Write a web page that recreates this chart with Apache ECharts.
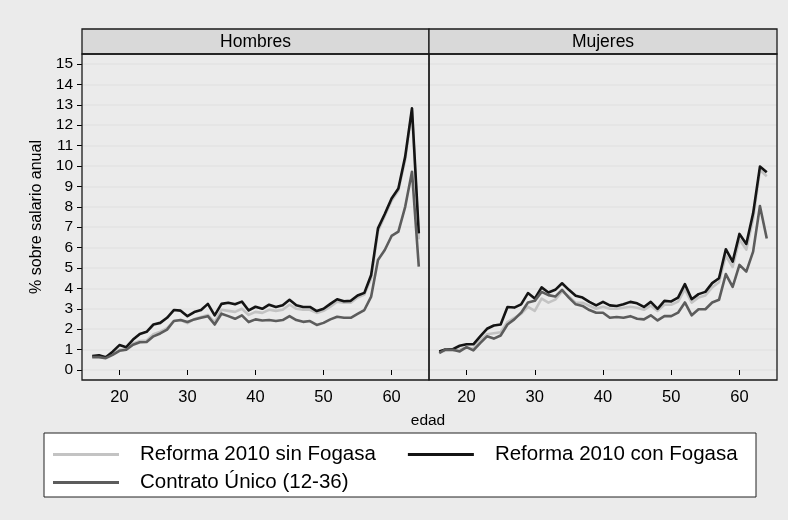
<!DOCTYPE html>
<html>
<head>
<meta charset="utf-8">
<script src="https://cdn.jsdelivr.net/npm/echarts@6/dist/echarts.min.js"></script>
<style>html,body{margin:0;padding:0;background:#ebebeb;}#c{width:788px;height:520px;}</style>
</head>
<body>
<div id="c"></div>
<script>
const ages = [16,17,18,19,20,21,22,23,24,25,26,27,28,29,30,31,32,33,34,35,36,37,38,39,40,41,42,43,44,45,46,47,48,49,50,51,52,53,54,55,56,57,58,59,60,61,62,63,64];

const hombresSin = [0.65,0.68,0.6,0.8,1.0,1.02,1.3,1.42,1.45,1.75,
  1.88,2.05,2.4,2.45,2.3,2.5,2.6,2.7,2.35,2.95,
  2.9,2.85,3.0,2.7,2.85,2.8,2.95,2.9,2.95,3.2,
  3.0,2.95,2.95,2.8,2.9,3.1,3.35,3.3,3.3,3.55,
  3.7,4.5,6.8,7.55,8.3,8.8,10.3,12.7,6.4];
const hombresCon = [0.69,0.72,0.63,0.9,1.22,1.12,1.49,1.77,1.87,2.23,
  2.31,2.56,2.94,2.91,2.64,2.84,2.94,3.24,2.68,3.24,
  3.3,3.22,3.35,2.92,3.1,3.0,3.2,3.09,3.17,3.44,
  3.17,3.09,3.09,2.89,3.0,3.24,3.47,3.37,3.39,3.65,
  3.78,4.66,6.94,7.65,8.41,8.9,10.46,12.83,6.7];
const hombresUnico = [0.63,0.63,0.58,0.74,0.94,0.99,1.24,1.36,1.37,1.65,
  1.79,1.98,2.4,2.45,2.35,2.48,2.56,2.64,2.23,2.76,
  2.64,2.51,2.68,2.35,2.48,2.43,2.45,2.4,2.45,2.64,
  2.45,2.36,2.4,2.21,2.31,2.48,2.61,2.56,2.56,2.75,
  2.94,3.6,5.39,5.88,6.57,6.78,8.0,9.72,5.07];

const mujeresSin = [0.9,0.95,0.95,1.0,1.1,1.05,1.45,1.75,1.8,1.85,
  2.35,2.55,2.75,3.1,2.9,3.5,3.3,3.45,3.85,3.6,
  3.3,3.3,3.15,3.0,3.1,3.0,3.0,3.05,3.1,3.05,
  2.95,3.15,2.9,3.2,3.2,3.35,3.95,3.3,3.55,3.65,
  4.05,4.3,5.6,5.05,6.4,5.9,7.4,9.8,9.5];
const mujeresCon = [0.91,1.02,1.02,1.19,1.26,1.26,1.65,2.02,2.18,2.23,
  3.09,3.06,3.22,3.77,3.5,4.05,3.8,3.93,4.25,3.93,
  3.64,3.55,3.34,3.17,3.34,3.17,3.14,3.22,3.34,3.27,
  3.09,3.34,3.0,3.39,3.36,3.55,4.21,3.47,3.72,3.83,
  4.26,4.5,5.92,5.31,6.67,6.18,7.68,9.97,9.69];
const mujeresUnico = [0.83,1.02,0.99,0.91,1.12,0.96,1.32,1.65,1.54,1.69,
  2.23,2.48,2.81,3.31,3.39,3.83,3.67,3.6,3.93,3.55,
  3.22,3.14,2.94,2.81,2.81,2.56,2.6,2.56,2.64,2.51,
  2.48,2.68,2.43,2.64,2.64,2.81,3.31,2.68,2.98,2.98,
  3.31,3.44,4.7,4.08,5.15,4.82,5.8,8.04,6.45];

const xTickValues = [20,30,40,50,60];
const panelTitles = ['Hombres','Mujeres'];
const seriesNames = ['Reforma 2010 sin Fogasa','Reforma 2010 con Fogasa','Contrato Único (12-36)'];
const yAxisTitle = '% sobre salario anual';
const xAxisTitle = 'edad';

const colors = ['#c3c3c3','#141414','#5c5c5c'];
const FONT = 'Liberation Sans, Arial, Helvetica, sans-serif';

const panels = [[hombresSin,hombresCon,hombresUnico],[mujeresSin,mujeresCon,mujeresUnico]];
const pair = arr => ages.map((a,i)=>[a,arr[i]]);

const series = [];
panels.forEach((p,pi)=>{
  p.forEach((arr,si)=>{
    series.push({
      type:'line', name:seriesNames[si], xAxisIndex:pi, yAxisIndex:pi,
      data:pair(arr), symbol:'none', showSymbol:false, silent:true,
      color:colors[si], lineStyle:{color:colors[si], width:2.6, join:'round'},
      z: 3+si, animation:false
    });
  });
});

const gridDefs = [{left:82, top:64, width:347, height:306},{left:429, top:64, width:348, height:306}];

const xAxes = gridDefs.map((g,i)=>({
  type:'value', gridIndex:i, min:14.5, max:65.5, offset:10,
  axisLine:{show:false},
  axisTick:{show:true, length:5, customValues:xTickValues, lineStyle:{color:'#000', width:1}},
  axisLabel:{show:true, customValues:xTickValues, fontSize:16.5, color:'#000', margin:9, fontFamily:FONT},
  splitLine:{show:false}
}));
const yAxes = gridDefs.map((g,i)=>({
  type:'value', gridIndex:i, min:0, max:15, interval:1,
  name: i===0 ? yAxisTitle : '', nameLocation:'middle', nameGap:37,
  nameTextStyle:{fontSize:16, color:'#000', fontFamily:FONT},
  axisLine:{show:false},
  axisTick:{show:i===0, length:5, lineStyle:{color:'#000', width:1}},
  axisLabel:{show:i===0, fontSize:15.5, color:'#000', margin:9, fontFamily:FONT},
  splitLine:{show:true, lineStyle:{color:'#e3e3e3', width:1.6}}
}));

const graphics = [];
const frames = [[82,54,347,326],[429,54,348,326]];
frames.forEach((f,i)=>{
  graphics.push({type:'rect', shape:{x:f[0], y:29, width:f[2], height:25}, style:{fill:'#d9d9d9', stroke:'#1a1a1a', lineWidth:1.3}, z:10});
  graphics.push({type:'text', x:f[0]+f[2]/2, y:42, style:{text:panelTitles[i], font:'17.5px '+FONT, fill:'#000', textAlign:'center', textVerticalAlign:'middle'}, z:11});
  graphics.push({type:'rect', shape:{x:f[0], y:f[1], width:f[2], height:f[3]}, style:{fill:'none', stroke:'#1a1a1a', lineWidth:1.3}, z:10});
});
graphics.push({type:'text', x:428, y:421, style:{text:xAxisTitle, font:'15.5px '+FONT, fill:'#000', textAlign:'center', textVerticalAlign:'middle'}, z:11});
graphics.push({type:'rect', shape:{x:44, y:433, width:712, height:64}, style:{fill:'#fff', stroke:'#222', lineWidth:1}, z:-1});

const legendCommon = {
  icon:'rect', itemWidth:66, itemHeight:3, padding:0, selectedMode:false,
  textStyle:{fontSize:20.5, color:'#000', fontFamily:FONT, padding:[0,0,0,16]}
};

const option = {
  backgroundColor:'#ebebeb',
  animation:false,
  grid:gridDefs,
  xAxis:xAxes,
  yAxis:yAxes,
  legend:[
    Object.assign({}, legendCommon, {data:[seriesNames[0],seriesNames[1]], left:53, top:444, itemGap:32, z:5}),
    Object.assign({}, legendCommon, {data:[seriesNames[2]], left:53, top:472, z:5})
  ],
  graphic:graphics,
  series:series
};

const chart = echarts.init(document.getElementById('c'), null, {renderer:'canvas'});
chart.setOption(option);
</script>
</body>
</html>
